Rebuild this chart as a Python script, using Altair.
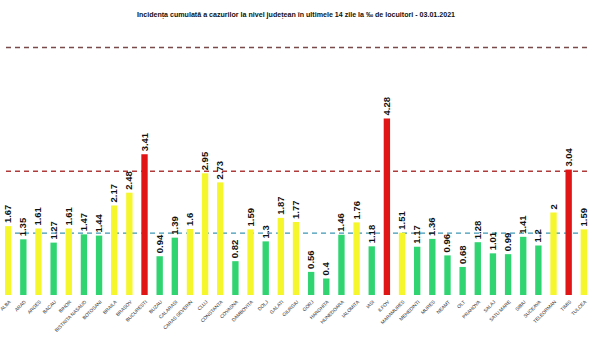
import altair as alt
import pandas as pd

counties = ["ALBA", "ARAD", "ARGES", "BACAU", "BIHOR", "BISTRITA NASAUD", "BOTOSANI",
            "BRAILA", "BRASOV", "BUCURESTI", "BUZAU", "CALARASI", "CARAS SEVERIN", "CLUJ",
            "CONSTANTA", "COVASNA", "DAMBOVITA", "DOLJ", "GALATI", "GIURGIU", "GORJ",
            "HARGHITA", "HUNEDOARA", "IALOMITA", "IASI", "ILFOV", "MARAMURES", "MEHEDINTI",
            "MURES", "NEAMT", "OLT", "PRAHOVA", "SALAJ", "SATU MARE", "SIBIU", "SUCEAVA",
            "TELEORMAN", "TIMIS", "TULCEA"]
values = [1.67, 1.35, 1.61, 1.27, 1.61, 1.47, 1.44, 2.17, 2.48, 3.41, 0.94, 1.39, 1.6, 2.95,
          2.73, 0.82, 1.59, 1.3, 1.87, 1.77, 0.56, 0.4, 1.46, 1.76, 1.18, 4.28, 1.51, 1.17,
          1.36, 0.96, 0.68, 1.28, 1.01, 0.99, 1.41, 1.2, 2, 3.04, 1.59]
thresholds = [1.5, 3, 6]
threshold_names = ["t1", "t2", "t3"]
threshold_colors = ["#3f98b4", "#b03a3a", "#7a4a4a"]
title = "Incidența cumulată a cazurilor la nivel județean în ultimele 14 zile la ‰ de locuitori - 03.01.2021"


def band(v):
    if v > 3:
        return "red"
    if v >= 1.5:
        return "yellow"
    return "green"


df = pd.DataFrame({"county": counties, "value": values,
                   "label": [f"{v:g}" for v in values],
                   "level": [band(v) for v in values]})
lines = pd.DataFrame({"value": thresholds, "name": threshold_names})

x = alt.X("county:N", sort=counties,
          scale=alt.Scale(paddingInner=0.58, paddingOuter=0.0),
          axis=alt.Axis(title=None, labelAngle=-45, labelAlign="right",
                        labelFontSize=4.8, labelFont="Liberation Sans", labelColor="#333",
                        ticks=False, domain=False, labelPadding=4, labelOverlap=False))
y = alt.Y("value:Q", scale=alt.Scale(domain=[0, 6.4], nice=False), axis=None)

base = alt.Chart(df).encode(x=x, y=y)

bars = base.mark_bar().encode(
    color=alt.Color("level:N",
                    scale=alt.Scale(domain=["green", "yellow", "red"],
                                    range=["#30d572", "#f6f62c", "#e01515"]),
                    legend=None))

text = base.mark_text(angle=270, align="left", baseline="middle", dx=3,
                      fontSize=9.5, fontWeight="bold", font="Liberation Sans",
                      color="#111").encode(text="label:N")

rules = alt.Chart(lines).mark_rule(strokeDash=[5, 4], strokeWidth=1.3).encode(
    y=y,
    stroke=alt.Stroke("name:N", scale=alt.Scale(domain=threshold_names, range=threshold_colors),
                      legend=None))

chart = alt.layer(rules, bars, text).properties(
    width=582, height=264,
    title=alt.TitleParams(title, fontSize=7.1, fontWeight="bold", font="Liberation Sans",
                          color="#111", anchor="middle", offset=13),
    padding={"left": 5, "top": 31, "right": 2, "bottom": 59},
    autosize=alt.AutoSizeParams(type="none"),
    background="white",
).configure_view(strokeWidth=0)

chart.save("out.html", embed_options={"renderer": "svg", "actions": False})
